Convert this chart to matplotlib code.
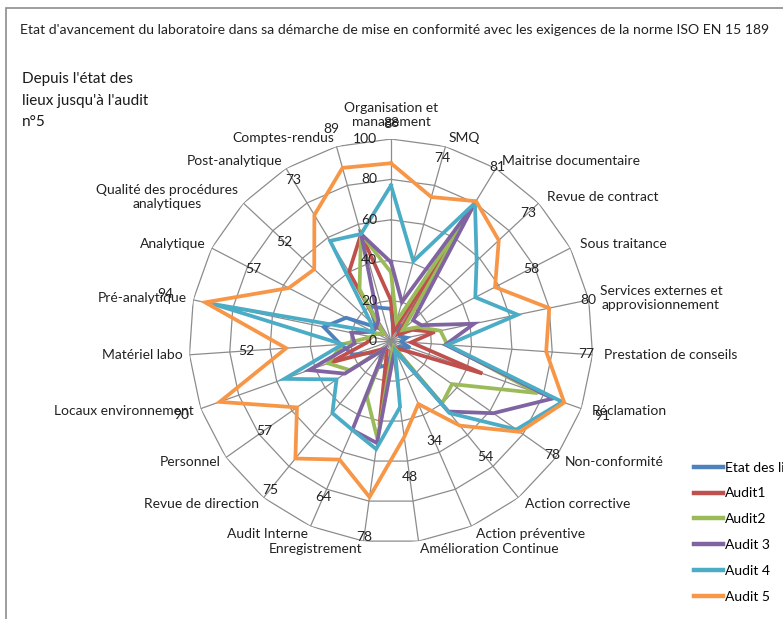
#!/usr/bin/env python3
import numpy as np
import matplotlib
matplotlib.use("Agg")
import matplotlib.pyplot as plt
from matplotlib import font_manager
from matplotlib.patches import Rectangle

plt.rcParams.update({
    "font.family": ["Lato", "DejaVu Sans"],
    "font.size": 10,
})

TITLE = ("Etat d'avancement du laboratoire dans sa démarche de mise en conformité "
         "avec les exigences de la norme ISO EN 15 189")
SUBTITLE = "Depuis l'état des\nlieux jusqu'à l'audit\nn°5"

categories = [
    "Organisation et\nmanagement", "SMQ", "Maitrise documentaire", "Revue de contract",
    "Sous traitance", "Services externes et\napprovisionnement", "Prestation de conseils",
    "Réclamation", "Non-conformité", "Action corrective", "Action préventive",
    "Amélioration Continue", "Enregistrement", "Audit Interne", "Revue de direction",
    "Personnel", "Locaux environnement", "Matériel labo", "Pré-analytique", "Analytique",
    "Qualité des procédures\nanalytiques", "Post-analytique", "Comptes-rendus",
]

series_names = ["Etat des lieux", "Audit1", "Audit2", "Audit 3", "Audit 4", "Audit 5"]

etat_des_lieux = [16, 5, 8, 5, 5, 8, 5, 10, 5, 5, 3, 5, 12, 14, 8, 10, 20, 25, 34, 25, 10, 20, 17]
audit1 = [20, 5, 78, 5, 12, 22, 10, 48, 8, 5, 3, 5, 42, 5, 5, 8, 32, 12, 10, 8, 5, 40, 55]
audit2 = [34, 10, 80, 8, 15, 25, 28, 77, 37, 40, 3, 5, 49, 30, 5, 25, 33, 24, 10, 8, 5, 30, 55]
audit3 = [39, 20, 80, 15, 17, 42, 27, 85, 62, 45, 5, 8, 51, 48, 5, 28, 43, 18, 20, 10, 10, 12, 55]
audit4 = [77, 41, 80, 58, 47, 64, 28, 90, 76, 46, 5, 33, 54, 48, 46, 33, 56, 24, 90, 10, 14, 58, 55]
audit5 = [88, 74, 81, 73, 58, 80, 77, 91, 78, 54, 34, 48, 78, 64, 75, 57, 90, 52, 94, 57, 52, 73, 89]

colors = ["#4F81BD", "#C0504D", "#9BBB59", "#8064A2", "#4BACC6", "#F79646"]
radial_ticks = [0, 20, 40, 60, 80, 100]

# narrow font for the title if there is one, else a smaller Lato
names = {f.name for f in font_manager.fontManager.ttflist}
if "Liberation Sans Narrow" in names:
    title_font, title_size = "Liberation Sans Narrow", 11.5
else:
    title_font, title_size = "Lato", 10.1

W, H = 783, 619
fig = plt.figure(figsize=(W / 100, H / 100), dpi=100)

# chart border (cut at right and bottom like the source)
fig.add_artist(Rectangle((6 / W, -0.05), 1.2, 1 - 8 / H + 0.05, transform=fig.transFigure,
                         fill=False, ec="#8c8c8c", lw=1.2))

fig.text(20 / W, 1 - 30 / H, TITLE, va="center", ha="left", fontsize=title_size,
         family=[title_font, "DejaVu Sans"], color="#222222")
fig.text(22 / W, 1 - 72 / H, SUBTITLE, va="top", ha="left", fontsize=11,
         linespacing=1.7, color="#1a1a1a")

# polar axes: centre at (391, 341) px, radius 202 px
cx, cy, R = 391, 341, 202
ax = fig.add_axes([(cx - R) / W, (H - cy - R) / H, 2 * R / W, 2 * R / H], projection="polar")
ax.set_theta_zero_location("N")
ax.set_theta_direction(-1)
ax.set_ylim(0, 100)
ax.set_axis_off()

n = len(categories)
theta = np.linspace(0, 2 * np.pi, n, endpoint=False)
theta_c = np.append(theta, theta[0])

grid_kw = dict(color="#8c8c8c", lw=0.9, zorder=1)
for r in radial_ticks[1:]:
    ax.plot(theta_c, [r] * (n + 1), **grid_kw)
for t in theta:
    ax.plot([t, t], [0, 100], **grid_kw)

for r in radial_ticks:
    ax.annotate(str(r), xy=(0, r), xytext=(-10, 0), textcoords="offset points",
                ha="right", va="center", fontsize=10, color="#222222", zorder=5)

data = [etat_des_lieux, audit1, audit2, audit3, audit4, audit5]
for name, vals, c in zip(series_names, data, colors):
    v = np.append(vals, vals[0])
    ax.plot(theta_c, v, color=c, lw=2.7, label=name, zorder=3, solid_joinstyle="miter")

# Audit 5 values written beyond the points
for t, v in zip(theta, audit5):
    ax.text(t, v + 20, str(v), ha="center", va="center", fontsize=10, color="#222222",
            clip_on=False, zorder=6)

# category labels
for i, (t, lab) in enumerate(zip(theta, categories)):
    s, c = np.sin(t), np.cos(t)
    if i == 0:
        ax.annotate(lab, xy=(t, 100), xytext=(0, 8), textcoords="offset points",
                    ha="center", va="bottom", multialignment="center", color="#222222")
        continue
    if s > 0:
        dx, ha = 8 * s, "left"
    else:
        dx, ha = 5 * s, "right"
    dy = 6 * c
    ax.annotate(lab, xy=(t, 100), xytext=(dx, dy), textcoords="offset points",
                ha=ha, va="center", multialignment="center", color="#222222",
                annotation_clip=False)

leg = fig.legend(loc="upper left", bbox_to_anchor=(688 / W, 1 - 456 / H), frameon=False,
                 fontsize=10, handlelength=2.1, handletextpad=0.15, labelspacing=1.0,
                 borderaxespad=0)
for line in leg.get_lines():
    line.set_linewidth(3.2)

fig.savefig("out.png", dpi=100)
